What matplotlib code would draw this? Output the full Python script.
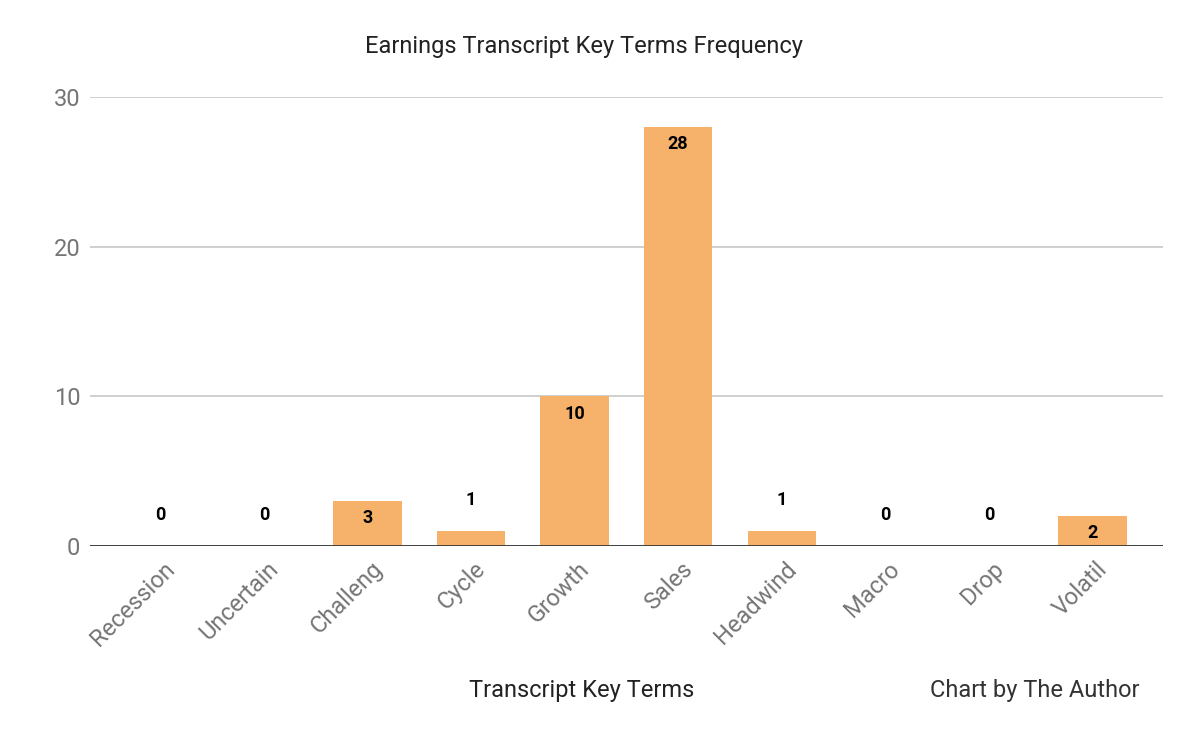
import matplotlib.pyplot as plt
import matplotlib.transforms as mtransforms

terms = ["Recession", "Uncertain", "Challeng", "Cycle", "Growth",
         "Sales", "Headwind", "Macro", "Drop", "Volatil"]
counts = [0, 0, 3, 1, 10, 28, 1, 0, 0, 2]

plt.rcParams['font.family'] = ['Roboto', 'DejaVu Sans']

fig = plt.figure(figsize=(12, 7.41), dpi=100)
ax = fig.add_axes([0.075, 1 - 546 / 741, 0.894, (546 - 97) / 741])

x = list(range(len(terms)))
ax.bar(x, counts, width=0.66, color='#F6B26B', zorder=3)

ax.set_ylim(0, 30)
ax.set_xlim(-0.68, len(terms) - 1 + 0.68)
ax.set_yticks([0, 10, 20, 30])
ax.grid(axis='y', color='#cccccc', linewidth=1.3, zorder=0)
ax.axhline(0, color='#333333', linewidth=2, zorder=4)
for s in ax.spines.values():
    s.set_visible(False)
ax.tick_params(axis='both', length=0, labelsize=17, colors='#757575')
ax.tick_params(axis='y', pad=7)
ax.set_xticks(x)
ax.set_xticklabels(terms, rotation=45, ha='right', va='center',
                   rotation_mode='anchor')
ax.tick_params(axis='x', pad=14)
shift = mtransforms.ScaledTranslation(8 / 72, 0, fig.dpi_scale_trans)
for lab in ax.get_xticklabels():
    lab.set_transform(lab.get_transform() + shift)

# value labels: inside the bar when it is tall enough, otherwise above
for i, v in enumerate(counts):
    if v >= 2:
        ax.annotate(str(v), (i, v), xytext=(0, -12.5), textcoords='offset points',
                    ha='center', va='center', fontsize=13, fontweight='bold',
                    color='black', zorder=5)
    else:
        ax.annotate(str(v), (i, v), xytext=(0, 22), textcoords='offset points',
                    ha='center', va='center', fontsize=13, fontweight='bold',
                    color='black', zorder=5)

fig.text(584 / 1200, 1 - 47 / 741, "Earnings Transcript Key Terms Frequency",
         ha='center', va='center', fontsize=17, color='#222222')
fig.text(582 / 1200, 1 - 691 / 741, "Transcript Key Terms",
         ha='center', va='center', fontsize=17, color='#222222')
fig.text(1139 / 1200, 1 - 691 / 741, "Chart by The Author",
         ha='right', va='center', fontsize=17, color='#333333')

plt.savefig('out.png', dpi=100)
